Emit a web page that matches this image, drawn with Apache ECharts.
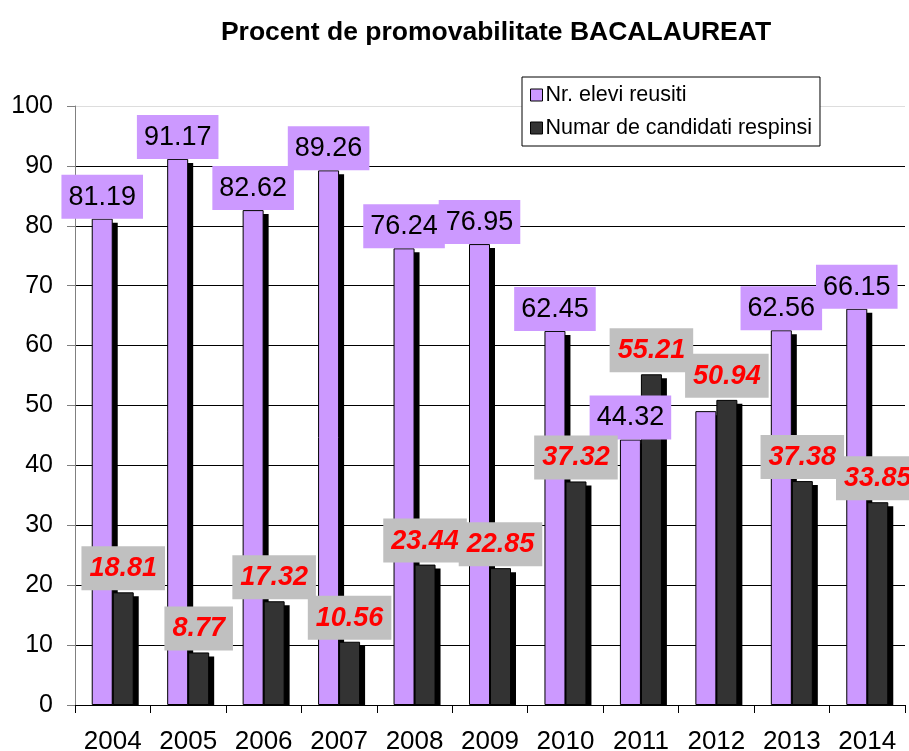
<!DOCTYPE html>
<html><head><meta charset="utf-8">
<script src="https://cdn.jsdelivr.net/npm/echarts@6/dist/echarts.min.js"></script>
<style>html,body{margin:0;padding:0;background:#fff}#c{width:909px;height:751px}</style>
</head><body><div id="c"></div>
<script>
const years = ['2004','2005','2006','2007','2008','2009','2010','2011','2012','2013','2014'];
const reusiti = [81.19,91.17,82.62,89.26,76.24,76.95,62.45,44.32,49.06,62.56,66.15];
const respinsi = [18.81,8.77,17.32,10.56,23.44,22.85,37.32,55.21,50.94,37.38,33.85];
const yTicks = [0,10,20,30,40,50,60,70,80,90,100];
// label of this year's "reusiti" bar is hidden behind the other label in the original
const hiddenReusitiLabel = ['2012'];

const FONT = '"Liberation Sans", Arial, sans-serif';
const PURPLE = '#cc99ff', DARK = '#333333';
const BAR_W = 21, SH_X = 5, SH_Y = 4;
const chart = echarts.init(document.getElementById('c'));

function shadowSeries(values, side) {
  return {
    type: 'custom', silent: true, z: 1,
    data: values.map((v, i) => [i, v]),
    renderItem: function (params, api) {
      const i = api.value(0), v = api.value(1);
      const top = api.coord([i, v]);
      const base = api.coord([i, 0]);
      const x0 = top[0] + (side < 0 ? -BAR_W : 0) + SH_X;
      const y0 = top[1] + SH_Y;
      const h = Math.max(0, base[1] - y0);
      return {type: 'rect', shape: {x: x0, y: y0, width: BAR_W, height: h}, style: {fill: '#000'}};
    }
  };
}
function barSeries(name, values, color, label, hidden) {
  return {
    name, type: 'bar', z: 2,
    data: values.map((v, i) => hidden && hidden.indexOf(years[i]) >= 0 ? {value: v, label: {show: false}} : v),
    barWidth: BAR_W, barGap: '0%',
    itemStyle: {color, borderColor: '#000', borderWidth: 1},
    label: Object.assign({show: true, position: 'top', formatter: p => p.value.toFixed(2)}, label)
  };
}

chart.setOption({
  animation: false,
  title: {
    text: 'Procent de promovabilitate BACALAUREAT',
    left: 491, top: 14, textAlign: 'center',
    textStyle: {fontFamily: FONT, fontSize: 26.5, fontWeight: 'bold', color: '#000'}
  },
  legend: {
    orient: 'vertical', left: 522, top: 77,
    padding: [7, 8, 7, 8], itemGap: 11,
    borderColor: '#000', borderWidth: 1, backgroundColor: '#fff',
    itemWidth: 12, itemHeight: 12, icon: 'rect',
    textStyle: {fontFamily: FONT, fontSize: 21.5, color: '#000', padding: [0,0,0,-2]},
    data: [
      {name: 'Nr. elevi reusiti', itemStyle: {color: PURPLE, borderColor: '#000', borderWidth: 1}},
      {name: 'Numar de candidati respinsi', itemStyle: {color: DARK, borderColor: '#000', borderWidth: 1}}
    ]
  },
  grid: {left: 75, right: 4, top: 106, bottom: 46, containLabel: false, outerBoundsMode: 'none'},
  xAxis: {
    type: 'category', data: years,
    axisLine: {lineStyle: {color: '#000', width: 1}},
    axisTick: {show: true, length: 8, lineStyle: {color: '#000'}},
    axisLabel: {interval: 0, fontFamily: FONT, fontSize: 26, color: '#000', margin: 24}
  },
  yAxis: {
    type: 'value', min: yTicks[0], max: yTicks[yTicks.length-1], interval: 10,
    axisLine: {show: true, lineStyle: {color: '#808080'}},
    axisTick: {show: true, length: 8, lineStyle: {color: '#808080'}},
    axisLabel: {fontFamily: FONT, fontSize: 25, color: '#000', margin: 22},
    splitLine: {show: true, lineStyle: {color: ['#000','#000','#000','#000','#000','#000','#000','#000','#000','#000','#dddddd'], width: 1}}
  },
  series: [
    shadowSeries(reusiti, -1),
    shadowSeries(respinsi, 1),
    barSeries('Nr. elevi reusiti', reusiti, PURPLE, {
      distance: 0, fontFamily: FONT, fontSize: 27, color: '#000',
      backgroundColor: PURPLE, padding: [9, 7, 8, 7]
    }, hiddenReusitiLabel),
    barSeries('Numar de candidati respinsi', respinsi, DARK, {
      distance: 2, fontFamily: FONT, fontSize: 27, fontWeight: 'bold', fontStyle: 'italic', color: '#ff0000',
      backgroundColor: '#c0c0c0', padding: [9, 8, 8, 8]
    })
  ]
});
</script>
</body></html>
